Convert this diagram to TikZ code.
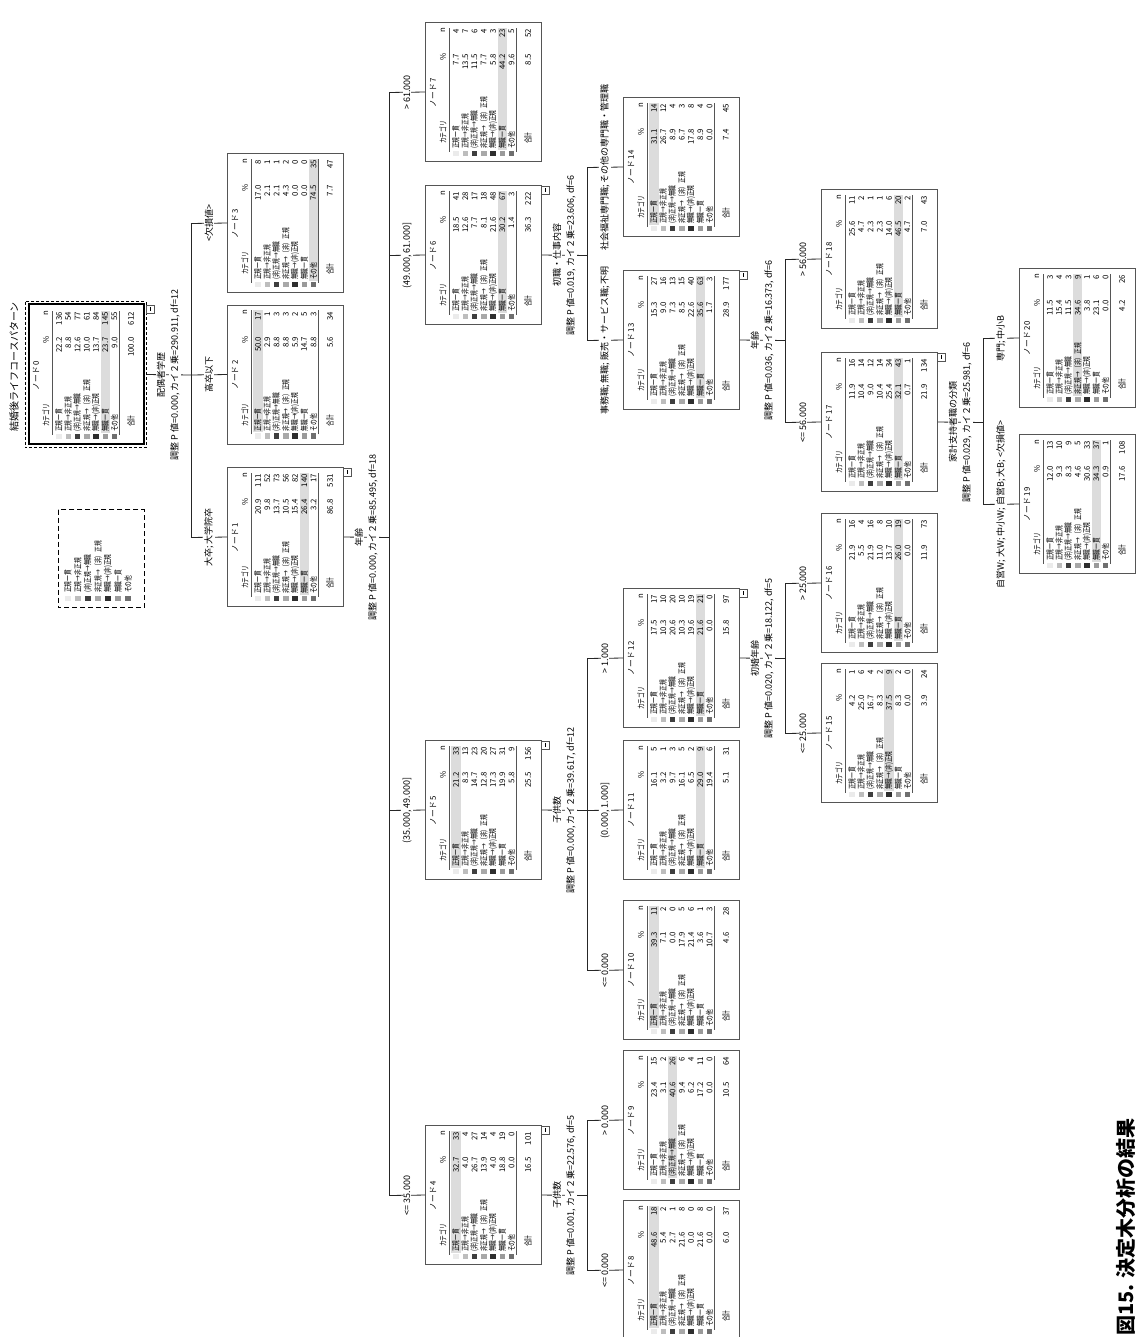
\documentclass[tikz,border=0pt]{standalone}
\usepackage{fontspec}
\setmainfont{Noto Sans CJK JP}
\newfontfamily\jfs{Noto Sans CJK JP}[FakeStretch=0.72]
\definecolor{cA}{HTML}{EBEBEB}
\definecolor{cB}{HTML}{BDBDBD}
\definecolor{cC}{HTML}{3F3F3F}
\definecolor{cD}{HTML}{A8A8A8}
\definecolor{cE}{HTML}{2E2E2E}
\definecolor{cF}{HTML}{9A9A9A}
\definecolor{cG}{HTML}{6F6F6F}
\definecolor{hlc}{HTML}{DCDCDC}
\definecolor{bxc}{HTML}{555555}
\tikzset{
  tbox/.style={draw=bxc, line width=0.9pt, minimum width=139pt, minimum height=116pt, inner sep=0pt, anchor=north west},
  con/.style={draw=black!85, line width=0.8pt},
  inl/.style={draw=bxc, line width=0.7pt},
  rowtxt/.style={inner sep=0pt, font=\jfs\fontsize{8}{9}\selectfont},
  numtxt/.style={inner sep=0pt, anchor=east, font=\fontsize{7.8}{9}\selectfont},
  ttl/.style={inner sep=0pt, font=\fontsize{7.8}{9}\selectfont},
  lab/.style={fill=white, inner sep=1pt, font=\fontsize{9}{10}\selectfont},
}
\newcommand\TNrows[2]{%
  \foreach \tnl/\tnc [count=\tni] in {正規一貫/cA, 正規→非正規/cB, {(非)正規→無職}/cC, 非正規→（非）正規/cD, {無職→(非)正規}/cE, 無職一貫/cF, その他/cG} {
    \pgfmathsetmacro\tnyy{#2+31+9.25*(\tni-1)}
    \fill[\tnc] ({#1+5.5},{-\tnyy-2.75}) rectangle ({#1+11},{-\tnyy+2.75});
    \node[rowtxt, anchor=west] at ({#1+13},{-\tnyy}) {\tnl};
  }%
}
\newcommand\TNnums[3]{%
  \foreach \tnp/\tnn [count=\tni] in {#3} {
    \pgfmathsetmacro\tnyy{\tni<8 ? #2+31+9.25*(\tni-1) : #2+103}
    \node[numtxt] at ({#1+108},{-\tnyy}) {\tnp};
    \node[numtxt] at ({#1+133},{-\tnyy}) {\tnn};
  }%
}
% #1 extra box style, #2 id, #3 L, #4 T, #5 highlighted row, #6 data
\newcommand\TN[6][]{%
  \pgfmathsetmacro\tnhy{#4+31+9.25*(#5-1)}
  \fill[hlc] ({#3+12},{-\tnhy-4.6}) rectangle ({#3+134},{-\tnhy+4.6});
  \node[tbox,#1] (n#2) at (#3,-#4) {};
  \node[ttl] at ({#3+69.5},{-#4-8}) {ノード #2};
  \node[rowtxt, anchor=west] at ({#3+18},{-#4-18}) {カテゴリ};
  \node[ttl] at ({#3+105},{-#4-18}) {\%};
  \node[ttl] at ({#3+132},{-#4-18}) {n};
  \draw[inl] ({#3+10},{-#4-24}) -- ({#3+134},{-#4-24});
  \draw[inl] ({#3+10},{-#4-91.5}) -- ({#3+134},{-#4-91.5});
  \TNrows{#3}{#4}
  \TNnums{#3}{#4}{#6}
  \node[rowtxt, anchor=west] at ({#3+18},{-#4-103}) {合計};
}
% collapse box: right X, bottom Y
\newcommand\Minus[2]{%
  \draw[bxc, line width=0.7pt, fill=white] ({#1-8},{-#2}) rectangle (#1,{-#2-8});
  \draw[black, line width=0.7pt] ({#1-6},{-#2-4}) -- ({#1-2},{-#2-4});
}
\newcommand\Split[4]{%
  \node[lab] at (#1,{-#2-16}) {#3};
  \node[lab] at (#1,{-#2-30}) {#4};
}
\begin{document}
\begin{tikzpicture}[x=1pt,y=1pt]
\fill[white] (0,0) rectangle (1146,1337);
\useasboundingbox (0,0) rectangle (1146,1337);
\begin{scope}[rotate=90, transform shape]
% title
\node[font=\fontsize{10}{12}\selectfont, inner sep=0pt] (title) at (970,-14) {結婚後ライフコースパターン};
% legend
\node[draw=black, dash pattern=on 5pt off 3pt, line width=0.8pt, minimum width=98pt, minimum height=86pt, inner sep=0pt, anchor=north west] (leg) at (729,-58) {};
\foreach \tnl/\tnc [count=\tni] in {正規一貫/cA, 正規→非正規/cB, {(非)正規→無職}/cC, 非正規→（非）正規/cD, {無職→(非)正規}/cE, 無職一貫/cF, その他/cG} {
  \pgfmathsetmacro\tnyy{68+10*(\tni-1)}
  \fill[\tnc] (735.5,{-\tnyy-2.75}) rectangle (741,{-\tnyy+2.75});
  \node[rowtxt, anchor=west] at (744,{-\tnyy}) {\tnl};
}
% ---------- connector coordinates ----------
\coordinate (k0) at (962,-191);
\coordinate (j1) at (799.5,-191);
\coordinate (j3) at (1113.5,-191);
\coordinate (k1) at (799.5,-389);
\coordinate (j4) at (141.5,-389);
\coordinate (j5) at (526.5,-389);
\coordinate (j6) at (1081.5,-389);
\coordinate (j7) at (1244.5,-389);
\coordinate (k4) at (141.5,-587);
\coordinate (j8) at (66.5,-587);
\coordinate (j9) at (216.5,-587);
\coordinate (k5) at (526.5,-587);
\coordinate (j10) at (366.5,-587);
\coordinate (j12) at (678.5,-587);
\coordinate (k6) at (1081.5,-587);
\coordinate (j13) at (996.5,-587);
\coordinate (j14) at (1169.5,-587);
\coordinate (k12) at (678.5,-785);
\coordinate (j15) at (603.5,-785);
\coordinate (j16) at (753.5,-785);
\coordinate (k13) at (996.5,-785);
\coordinate (j17) at (914.5,-785);
\coordinate (j18) at (1077.5,-785);
\coordinate (k17) at (914.5,-983);
\coordinate (j19) at (832.5,-983);
\coordinate (j20) at (998.5,-983);
% ---------- nodes ----------
\node[draw=black, dash pattern=on 3pt off 2pt, line width=0.9pt, minimum width=146pt, minimum height=121pt, inner sep=0pt, anchor=north west] (n0x) at (889,-25) {};
\TN[minimum width=140pt, minimum height=115pt, line width=1.8pt, draw=black]{0}{892}{28}{6}{22.2/136,8.8/54,12.6/77,10.0/61,13.7/84,23.7/145,9.0/55,100.0/612}
\TN{1}{730}{227}{6}{20.9/111,9.8/52,13.7/73,10.5/56,15.4/82,26.4/140,3.2/17,86.8/531}
\TN{2}{892.5}{227}{1}{50.0/17,2.9/1,8.8/3,8.8/3,5.9/2,14.7/5,8.8/3,5.6/34}
\TN{3}{1044}{227}{7}{17.0/8,2.1/1,2.1/1,4.3/2,0.0/0,0.0/0,74.5/35,7.7/47}
\TN{4}{72}{425}{1}{32.7/33,4.0/4,26.7/27,13.9/14,4.0/4,18.8/19,0.0/0,16.5/101}
\TN{5}{457}{425}{1}{21.2/33,8.3/13,14.7/23,12.8/20,17.3/27,19.9/31,5.8/9,25.5/156}
\TN{6}{1012}{425}{6}{18.5/41,12.6/28,7.7/17,8.1/18,21.6/48,30.2/67,1.4/3,36.3/222}
\TN{7}{1175}{425}{6}{7.7/4,13.5/7,11.5/6,7.7/4,5.8/3,44.2/23,9.6/5,8.5/52}
\TN{8}{-3}{623}{1}{48.6/18,5.4/2,2.7/1,21.6/8,0.0/0,21.6/8,0.0/0,6.0/37}
\TN{9}{147}{623}{3}{23.4/15,3.1/2,40.6/26,9.4/6,6.2/4,17.2/11,0.0/0,10.5/64}
\TN{10}{297}{623}{1}{39.3/11,7.1/2,0.0/0,17.9/5,21.4/6,3.6/1,10.7/3,4.6/28}
\TN{11}{457}{623}{6}{16.1/5,3.2/1,9.7/3,16.1/5,6.5/2,29.0/9,19.4/6,5.1/31}
\TN{12}{609}{623}{6}{17.5/17,10.3/10,20.6/20,10.3/10,19.6/19,21.6/21,0.0/0,15.8/97}
\TN{13}{927}{623}{6}{15.3/27,9.0/16,7.3/13,8.5/15,22.6/40,35.6/63,1.7/3,28.9/177}
\TN{14}{1100}{623}{1}{31.1/14,26.7/12,8.9/4,6.7/3,17.8/8,8.9/4,0.0/0,7.4/45}
\TN{15}{534}{821}{5}{4.2/1,25.0/6,16.7/4,8.3/2,37.5/9,8.3/2,0.0/0,3.9/24}
\TN{16}{684}{821}{6}{21.9/16,5.5/4,21.9/16,11.0/8,13.7/10,26.0/19,0.0/0,11.9/73}
\TN{17}{845}{821}{6}{11.9/16,10.4/14,9.0/12,10.4/14,25.4/34,32.1/43,0.7/1,21.9/134}
\TN{18}{1008}{821}{6}{25.6/11,4.7/2,2.3/1,2.3/1,14.0/6,46.5/20,4.7/2,7.0/43}
\TN{19}{763}{1019}{6}{12.0/13,9.3/10,8.3/9,4.6/5,30.6/33,34.3/37,0.9/1,17.6/108}
\TN{20}{929}{1019}{4}{11.5/3,15.4/4,11.5/3,34.6/9,3.8/1,23.1/6,0.0/0,4.2/26}
% ---------- connector lines ----------
\draw[con] (n0x.south) -- (k0);
\draw[con] (j1) -- (j3);
\draw[con] (j1) -- (n1.north);
\draw[con] (k0) -- (n2.north);
\draw[con] (j3) -- (n3.north);
\draw[con] (n1.south) -- (k1);
\draw[con] (j4) -- (j7);
\draw[con] (j4) -- (n4.north);
\draw[con] (j5) -- (n5.north);
\draw[con] (j6) -- (n6.north);
\draw[con] (j7) -- (n7.north);
\draw[con] (n4.south) -- (k4);
\draw[con] (j8) -- (j9);
\draw[con] (j8) -- (n8.north);
\draw[con] (j9) -- (n9.north);
\draw[con] (n5.south) -- (k5);
\draw[con] (j10) -- (j12);
\draw[con] (j10) -- (n10.north);
\draw[con] (k5) -- (n11.north);
\draw[con] (j12) -- (n12.north);
\draw[con] (n6.south) -- (k6);
\draw[con] (j13) -- (j14);
\draw[con] (j13) -- (n13.north);
\draw[con] (j14) -- (n14.north);
\draw[con] (n12.south) -- (k12);
\draw[con] (j15) -- (j16);
\draw[con] (j15) -- (n15.north);
\draw[con] (j16) -- (n16.north);
\draw[con] (n13.south) -- (k13);
\draw[con] (j17) -- (j18);
\draw[con] (j17) -- (n17.north);
\draw[con] (j18) -- (n18.north);
\draw[con] (n17.south) -- (k17);
\draw[con] (j19) -- (j20);
\draw[con] (j19) -- (n19.north);
\draw[con] (j20) -- (n20.north);
% ---------- collapse boxes ----------
\Minus{1032}{146}
\Minus{869}{343}
\Minus{211}{541}
\Minus{596}{541}
\Minus{1151}{541}
\Minus{748}{739}
\Minus{1066}{739}
\Minus{984}{937}
% ---------- split labels ----------
\Split{962}{145}{配偶者学歴}{調整 P 値=0.000, カイ２乗=290.911, df=12}
\Split{799.5}{343}{年齢}{調整 P 値=0.000, カイ２乗=85.495, df=18}
\Split{141.5}{541}{子供数}{調整 P 値=0.001, カイ２乗=22.576, df=5}
\Split{526.5}{541}{子供数}{調整 P 値=0.000, カイ２乗=39.617, df=12}
\Split{1081.5}{541}{初職・仕事内容}{調整 P 値=0.019, カイ２乗=23.606, df=6}
\Split{678.5}{739}{初婚年齢}{調整 P 値=0.020, カイ２乗=18.122, df=5}
\Split{996.5}{739}{年齢}{調整 P 値=0.036, カイ２乗=16.373, df=6}
\Split{914.5}{937}{家計支持者職の分類}{調整 P 値=0.029, カイ２乗=25.981, df=6}
% ---------- branch labels ----------
\node[lab] at (799.5,-209) {大卒; 大学院卒};
\node[lab] at (962,-209) {高卒以下};
\node[lab] at (1113.5,-209) {<欠損値>};
\node[lab] at (141.5,-407) {<= 35.000};
\node[lab] at (526.5,-407) {(35.000, 49.000]};
\node[lab] at (1081.5,-407) {(49.000, 61.000]};
\node[lab] at (1244.5,-407) {> 61.000};
\node[lab] at (66.5,-605) {<= 0.000};
\node[lab] at (216.5,-605) {> 0.000};
\node[lab] at (366.5,-605) {<= 0.000};
\node[lab] at (526.5,-605) {(0.000, 1.000]};
\node[lab] at (678.5,-605) {> 1.000};
\node[lab] at (996.5,-605) {事務職; 無職; 販売・サービス職; 不明};
\node[lab] at (1169.5,-605) {社会福祉専門職; その他の専門職・管理職};
\node[lab] at (603.5,-803) {<= 25.000};
\node[lab] at (753.5,-803) {> 25.000};
\node[lab] at (914.5,-803) {<= 56.000};
\node[lab] at (1077.5,-803) {> 56.000};
\node[lab] at (832.5,-1001) {自営W; 大W; 中小W; 自営B; 大B; <欠損値>};
\node[lab] at (998.5,-1001) {専門; 中小B};
% ---------- caption ----------
\node[font=\bfseries\fontsize{20}{24}\selectfont, inner sep=0pt, anchor=west] (cap) at (1,-1125.5) {図15. 決定木分析の結果};
\end{scope}
\end{tikzpicture}
\end{document}
